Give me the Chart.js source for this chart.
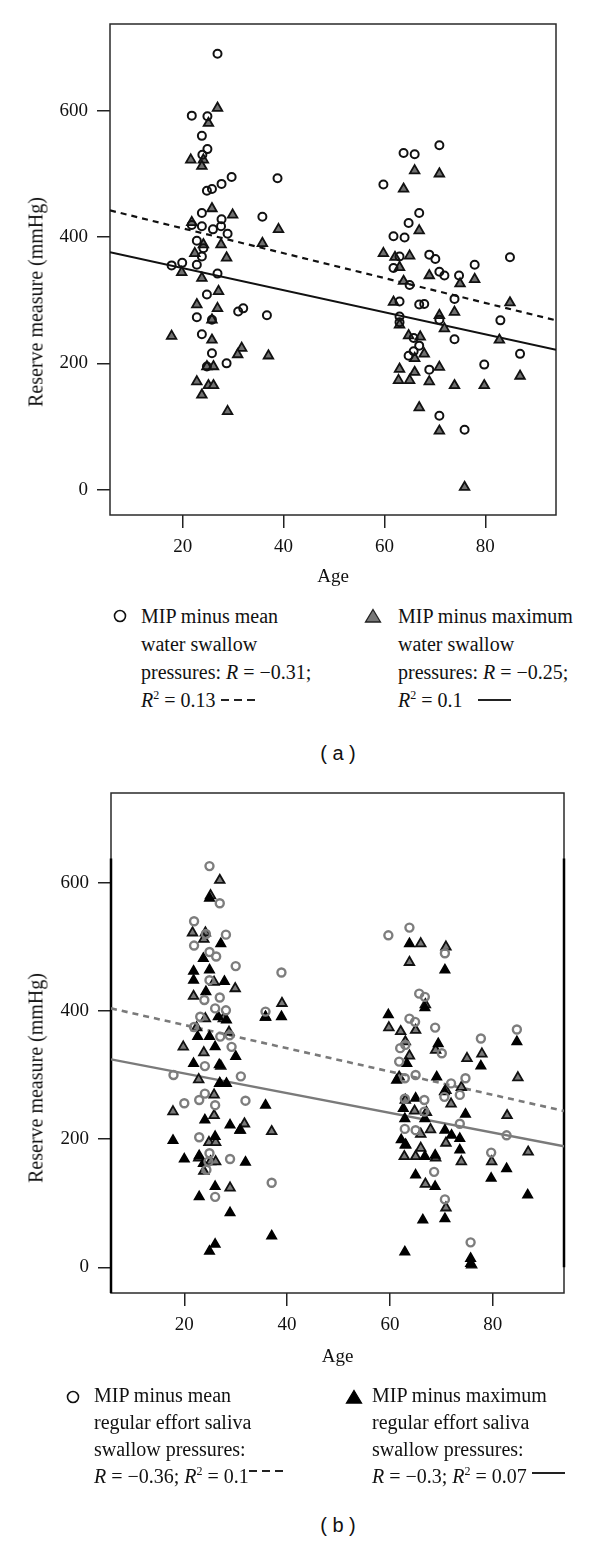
<!DOCTYPE html>
<html>
<head>
<meta charset="utf-8">
<script src="https://cdn.jsdelivr.net/npm/chart.js@4/dist/chart.umd.min.js"></script>
<style>
  body { margin: 0; width: 600px; height: 1541px; position: relative; background: #fff; color: #111;
         font-family: "Liberation Serif", "DejaVu Serif", serif; overflow: hidden; }
  canvas { position: absolute; left: 0; }
  .ytitle { position: absolute; font-size: 20px; white-space: nowrap; transform: translate(-50%, -50%) rotate(-90deg); }
  .leg { position: absolute; font-size: 20px; white-space: nowrap; }
  .leg sup { font-size: 12px; vertical-align: 8px; line-height: 0; }
  .sym { position: absolute; }
  .dash { display: inline-block; width: 36px; height: 1.6px; vertical-align: 6px;
          background: repeating-linear-gradient(90deg, #222 0 8px, transparent 8px 13px); }
  .solid { display: inline-block; width: 33px; height: 1.6px; vertical-align: 6px; background: #222; }
  .panel { position: absolute; font-family: "Liberation Sans", Arial, sans-serif; font-size: 20px;
           transform: translate(-50%, -50%); white-space: pre; }
</style>
</head>
<body>
<canvas id="chartA" width="600" height="600" style="top:0"></canvas>
<canvas id="chartB" width="600" height="620" style="top:770px"></canvas>

<div class="ytitle" style="left:36px; top:302px">Reserve measure (mmHg)</div>
<div class="ytitle" style="left:36px; top:1078px">Reserve measure (mmHg)</div>

<!-- legend (a) -->
<svg class="sym" style="left:113px; top:609px" width="14" height="14"><circle cx="7" cy="7" r="5.5" fill="none" stroke="#111" stroke-width="1.6"/></svg>
<svg class="sym" style="left:364px; top:608px" width="18" height="16"><polygon points="9,1.5 16.5,14 1.5,14" fill="#777" stroke="#222" stroke-width="1.3"/></svg>
<div class="leg" style="left:141px; top:602px; line-height:28px">MIP minus mean<br>water swallow<br>pressures: <i>R</i> = −0.31;<br><i>R</i><sup>2</sup> = 0.13 <span class="dash"></span></div>
<div class="leg" style="left:398px; top:602px; line-height:28px">MIP minus maximum<br>water swallow<br>pressures: <i>R</i> = −0.25;<br><i>R</i><sup>2</sup> = 0.1 &nbsp; <span class="solid"></span></div>
<div class="panel" style="left:338px; top:753px">( a )</div>

<!-- legend (b) -->
<svg class="sym" style="left:66px; top:1390px" width="14" height="14"><circle cx="7" cy="7" r="5.5" fill="none" stroke="#111" stroke-width="1.6"/></svg>
<svg class="sym" style="left:345px; top:1389px" width="18" height="16"><polygon points="9,1.5 16.5,14 1.5,14" fill="#000" stroke="#000" stroke-width="1.3"/></svg>
<div class="leg" style="left:94px; top:1382px; line-height:27px">MIP minus mean<br>regular effort saliva<br>swallow pressures:<br><i>R</i> = −0.36; <i>R</i><sup>2</sup> = 0.1<span class="dash" style="vertical-align:11px"></span></div>
<div class="leg" style="left:372px; top:1382px; line-height:27px">MIP minus maximum<br>regular effort saliva<br>swallow pressures:<br><i>R</i> = −0.3; <i>R</i><sup>2</sup> = 0.07 <span class="solid" style="vertical-align:9px"></span></div>
<div class="panel" style="left:338px; top:1525px">( b )</div>

<script>
// axis ticks
const xTicks = [20, 40, 60, 80];
const yTicks = [0, 200, 400, 600];

// (a) MIP minus mean water swallow pressures (circles)
const waterMeanAge = [26.9, 21.8, 24.9, 23.8, 24.9, 23.9, 29.7, 38.8, 27.7, 25.8, 24.8, 23.8, 35.8, 27.7, 21.8, 23.8, 26, 27.6,
  28.9, 22.8, 24.1, 23.8, 17.8, 19.9, 22.8, 26.9, 24.8, 31, 32, 36.7, 22.8, 25.8, 23.8, 25.8, 24.8, 28.7,
  70.9, 63.8, 66, 59.8, 66.9, 64.8, 61.8, 64, 63, 68.9, 70.1, 61.8, 70.9, 71.9, 74.8, 77.9, 84.9, 65,
  63, 66.9, 67.9, 73.9, 63, 63, 70.9, 83, 65.8, 73.9, 66.9, 65.8, 64.8, 68.9, 79.8, 86.9, 70.9, 75.9];
const waterMeanReserve = [690, 592, 591, 560, 539, 530, 495, 493, 484, 476, 473, 438, 432, 428, 419, 417, 412, 417,
  405, 394, 382, 369, 355, 359, 356, 342, 309, 282, 287, 276, 273, 269, 246, 216, 195, 200,
  545, 533, 531, 483, 438, 422, 401, 399, 369, 372, 365, 351, 345, 339, 339, 356, 368, 324,
  298, 293, 294, 302, 274, 265, 269, 268, 240, 238, 228, 219, 212, 190, 198, 215, 117, 95];

// (a) MIP minus maximum water swallow pressures (grey triangles)
const waterMaxAge = [26.9, 25.1, 21.6, 24.1, 23.8, 25.8, 29.9, 21.8, 39, 35.8, 24.1, 27.6, 22.4, 28.7, 19.8, 23.8, 27.1,
  22.8, 26.9, 25.8, 17.8, 25.8, 31.7, 30.9, 37, 24.8, 26.1, 22.8, 25.1, 26.1, 23.8, 28.9,
  66, 70.9, 63.8, 66.9, 59.8, 62.1, 65, 63, 63.8, 68.9, 75, 77.9, 84.9, 61.8, 73.9, 70.9, 63, 71.9,
  82.8, 64.8, 67.1, 66, 67.9, 63, 66, 70.9, 62.8, 65, 68.9, 73.9, 79.8, 86.9, 66.9, 70.9, 75.9];
const waterMaxReserve = [604, 580, 522, 522, 512, 445, 435, 423, 412, 390, 388, 388, 374, 367, 344, 335, 314,
  293, 287, 269, 243, 237, 224, 214, 212, 195, 195, 171, 165, 165, 150, 124,
  505, 500, 476, 410, 374, 368, 370, 352, 330, 339, 326, 333, 296, 297, 281, 276, 261, 255,
  237, 244, 242, 208, 215, 191, 186, 194, 173, 173, 171, 165, 165, 180, 130, 93, 4];

// (b) MIP minus mean regular effort saliva swallow pressures (grey circles)
const salivaMeanAge = [24.9, 26.9, 21.9, 28.1, 24.2, 21.9, 24.9, 26.2, 30, 38.9, 24.9, 26.9, 23.9, 28.1, 26, 23.1, 35.8, 21.9,
  28.8, 27, 29.2, 17.9, 24, 31, 20, 22.9, 24, 26, 31.9, 22.9, 24.9, 28.9, 24.7, 24.3, 26, 37,
  59.7, 63.8, 70.7, 65.7, 66.8, 63.8, 64.9, 68.8, 77.7, 84.7, 62, 63, 70.1, 61.8, 62.9, 65, 71.9, 74.7,
  73.6, 70.6, 62.9, 66.7, 66.7, 62.9, 65, 73.6, 82.7, 79.7, 68.6, 70.7, 75.7];
const salivaMeanReserve = [626, 568, 540, 519, 520, 502, 492, 485, 470, 460, 448, 421, 417, 401, 404, 391, 399, 375,
  362, 360, 344, 300, 314, 298, 256, 261, 271, 253, 260, 203, 178, 169, 165, 152, 110, 132,
  518, 530, 490, 427, 422, 388, 383, 374, 357, 371, 342, 347, 334, 321, 295, 300, 287, 295,
  269, 266, 263, 261, 243, 216, 214, 224, 206, 179, 149, 106, 39];

// (b) MIP minus maximum regular effort saliva swallow pressures (black triangles)
const salivaMaxAge = [24.9, 27.1, 23.7, 21.8, 24.9, 21.8, 27.8, 24.2, 38.9, 35.8, 26.6, 28.2, 22.6, 24.9, 26, 30, 21.8, 26.8,
  26.9, 28.2, 24, 28.9, 30.8, 26, 17.8, 20, 22.9, 23.7, 31.9, 35.8, 26, 22.9, 28.9, 26, 24.9, 37,
  63.8, 70.7, 66.8, 59.7, 69.4, 84.7, 77.7, 63.3, 61.3, 69.1, 70.6, 65, 62.6, 74.7, 62.9, 66.8, 70.7,
  72, 62.2, 73.6, 63.1, 73.6, 66.8, 68.8, 82.7, 79.7, 65, 68.8, 86.8, 70.7, 66.4, 62.9, 75.7, 75.7];
const salivaMaxReserve = [576, 505, 482, 462, 464, 448, 446, 430, 391, 391, 391, 386, 360, 360, 344, 329, 318, 316,
  287, 287, 230, 222, 214, 204, 198, 169, 174, 162, 164, 253, 126, 110, 85, 36, 25, 49,
  505, 464, 405, 394, 349, 352, 314, 318, 292, 297, 274, 264, 248, 239, 232, 232, 214,
  206, 199, 201, 191, 183, 173, 175, 154, 139, 144, 126, 113, 76, 74, 24, 14, 6];

// fitted lines, read at the left and right edges of each plot
const fitAgeA = [5.58, 94.03];
const fitMeanA = [442, 268];
const fitMaxA = [376, 221.5];
const fitAgeB = [5.74, 93.87];
const fitMeanB = [404, 244];
const fitMaxB = [324.5, 189];

const toPoints = (xs, ys) => xs.map((x, i) => ({ x: x, y: ys[i] }));

Chart.defaults.font.family = "'Liberation Serif', 'DejaVu Serif', serif";
Chart.defaults.color = '#111';

const framePlugin = {
  id: 'frame',
  beforeDatasetsDraw(chart, args, opts) {
    const { ctx, chartArea: a } = chart;
    ctx.save();
    ctx.strokeStyle = '#2a2a2a';
    ctx.lineWidth = 1.5;
    ctx.strokeRect(a.left, a.top, a.right - a.left, a.bottom - a.top);
    if (opts.heavyFrom !== undefined) {
      // darker stretch of the frame seen in panel (b)
      const y = chart.scales.y;
      ctx.strokeStyle = '#000';
      ctx.lineWidth = 2.5;
      ctx.beginPath();
      ctx.moveTo(a.left, y.getPixelForValue(opts.heavyFrom));
      ctx.lineTo(a.left, a.bottom);
      ctx.moveTo(a.right, y.getPixelForValue(opts.heavyFrom));
      ctx.lineTo(a.right, y.getPixelForValue(opts.heavyTo));
      ctx.stroke();
    }
    ctx.restore();
  }
};

function makePanel(id, p) {
  return new Chart(document.getElementById(id), {
    type: 'scatter',
    data: { datasets: p.datasets },
    plugins: [framePlugin],
    options: {
      responsive: false,
      animation: false,
      layout: { padding: { left: 0, top: p.top, right: p.right, bottom: 0 } },
      plugins: { legend: { display: false }, tooltip: { enabled: false }, frame: p.frame || {} },
      scales: {
        x: {
          type: 'linear', min: p.xMin, max: p.xMax,
          afterFit: s => { s.height = p.xHeight; },
          afterBuildTicks: s => { s.ticks = xTicks.map(v => ({ value: v })); },
          border: { display: false },
          grid: { drawOnChartArea: false, drawTicks: true, tickLength: 13, color: '#222', lineWidth: 1.5 },
          ticks: { padding: 8, font: { size: 19 } },
          title: { display: true, text: 'Age', font: { size: 19 }, padding: { top: 0, bottom: p.titlePad } }
        },
        y: {
          type: 'linear', min: -40, max: p.yMax,
          afterFit: s => { s.width = p.yWidth; },
          afterBuildTicks: s => { s.ticks = yTicks.map(v => ({ value: v })); },
          border: { display: false },
          grid: { drawOnChartArea: false, drawTicks: true, tickLength: 13, color: '#222', lineWidth: 1.5 },
          ticks: { padding: 9, font: { size: 19 } }
        }
      }
    }
  });
}

makePanel('chartA', {
  top: 24, right: 44, xHeight: 85, yWidth: 110, titlePad: 12,
  xMin: 5.58, xMax: 94.03, yMax: 737,
  datasets: [
    { data: toPoints(waterMeanAge, waterMeanReserve), pointStyle: 'circle', pointRadius: 4,
      borderWidth: 2, borderColor: '#111', backgroundColor: 'rgba(255,255,255,0)', order: 1 },
    { data: toPoints(waterMaxAge, waterMaxReserve), pointStyle: 'triangle', pointRadius: 5.5,
      borderWidth: 1.8, borderColor: '#111', backgroundColor: '#707070', order: 2 },
    { data: toPoints(fitAgeA, fitMeanA), showLine: true, pointRadius: 0, borderColor: '#111',
      borderWidth: 2.2, borderDash: [6, 5], order: 3 },
    { data: toPoints(fitAgeA, fitMaxA), showLine: true, pointRadius: 0, borderColor: '#111',
      borderWidth: 2, order: 3 }
  ]
});

makePanel('chartB', {
  top: 23, right: 36, xHeight: 97, yWidth: 111, titlePad: 22,
  xMin: 5.74, xMax: 93.87, yMax: 740,
  frame: { heavyFrom: 638, heavyTo: 0 },
  datasets: [
    { data: toPoints(salivaMeanAge, salivaMeanReserve), pointStyle: 'circle', pointRadius: 4,
      borderWidth: 2.4, borderColor: '#7d7d7d', backgroundColor: 'rgba(255,255,255,0)', order: 1 },
    { data: toPoints(salivaMaxAge, salivaMaxReserve), pointStyle: 'triangle', pointRadius: 5.5,
      borderWidth: 1.5, borderColor: '#000', backgroundColor: '#000', order: 2 },
    { data: toPoints(waterMaxAge, waterMaxReserve), pointStyle: 'triangle', pointRadius: 5.5,
      borderWidth: 1.8, borderColor: '#111', backgroundColor: '#7a7a7a', order: 3 },
    { data: toPoints(fitAgeB, fitMeanB), showLine: true, pointRadius: 0, borderColor: '#7a7a7a',
      borderWidth: 2.6, borderDash: [6, 5], order: 4 },
    { data: toPoints(fitAgeB, fitMaxB), showLine: true, pointRadius: 0, borderColor: '#7a7a7a',
      borderWidth: 2.4, order: 4 }
  ]
});
</script>
</body>
</html>
